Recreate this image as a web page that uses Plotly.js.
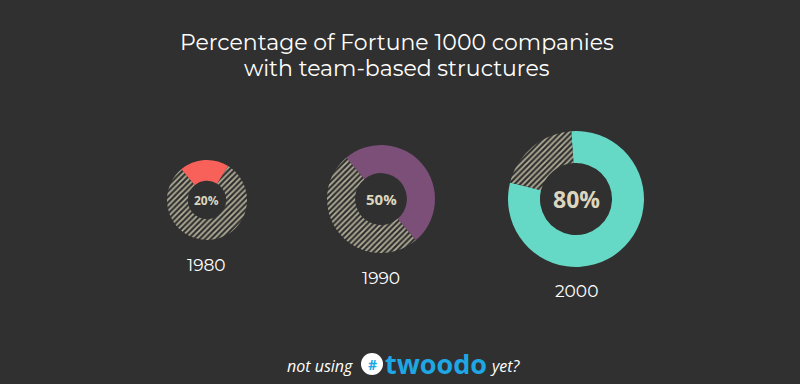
<!DOCTYPE html>
<html>
<head>
<meta charset="utf-8">
<script src="https://cdn.plot.ly/plotly-3.0.1.min.js"></script>
<style>html,body{margin:0;padding:0;background:#303030;}#chart{width:800px;height:384px;}</style>
</head>
<body>
<div id="chart"></div>
<script>
// Data
const years = ['1980', '1990', '2000'];
const teamShare = [20, 50, 80];
const otherShare = [80, 50, 20];
const centerLabels = ['20%', '50%', '80%'];
const sliceNames = ['Team-based', 'Not team-based'];

const W = 800, H = 384;
const bg = '#303030';
const colorsMain = ['#f8615a', '#7c4f78', '#66d8c6'];
const hatchFg = '#b4af99';
// layout (pixel centers/radii)
const cx = [207, 381, 576], cy = [200, 199, 199], rr = [40, 54, 68];
const holes = [0.48, 0.48, 0.53];
const rots = [-40, -40, -4];
const labelSizes = [12, 15, 23];
const yearY = [265, 278, 291];

const traces = years.map((y, i) => ({
  type: 'pie',
  name: y,
  labels: sliceNames,
  values: [teamShare[i], otherShare[i]],
  hole: holes[i],
  sort: false,
  direction: 'clockwise',
  rotation: rots[i],
  textinfo: 'none',
  hoverinfo: 'label+percent',
  showlegend: false,
  marker: {
    colors: [colorsMain[i], bg],
    line: {width: 0},
    pattern: {shape: ['', '/'], fgcolor: hatchFg, bgcolor: bg, size: 4, solidity: 0.45}
  },
  domain: {
    x: [(cx[i] - rr[i]) / W, (cx[i] + rr[i]) / W],
    y: [(H - cy[i] - rr[i]) / H, (H - cy[i] + rr[i]) / H]
  }
}));

const ann = [];
const font = 'Montserrat, "Open Sans", Lato, sans-serif';
function A(text, x, y, f) {
  ann.push({text: text, x: x / W, y: 1 - y / H, xref: 'paper', yref: 'paper', xanchor: 'center', yanchor: 'middle', showarrow: false, font: f});
}
A('Percentage of Fortune 1000 companies', 397, 43, {family: font, size: 22, color: '#ffffff'});
A('with team-based structures', 397, 68, {family: font, size: 22, color: '#ffffff'});
years.forEach((y, i) => {
  A('<b>' + centerLabels[i] + '</b>', cx[i], cy[i], {family: '"Open Sans", sans-serif', size: labelSizes[i], color: '#ddd6bf'});
  A(y, cx[i], yearY[i], {family: font, size: 17, color: '#ffffff'});
});
A('<i>not using</i>', 320, 366, {family: '"Open Sans", sans-serif', size: 16, color: '#ffffff'});
A('<b>#</b>', 372, 364, {family: '"Open Sans", sans-serif', size: 14, color: '#1ea7e4'});
A('<b>twoodo</b>', 436, 363, {family: '"Open Sans", sans-serif', size: 27, color: '#1ea7e4'});
A('<i>yet?</i>', 505, 366, {family: '"Open Sans", sans-serif', size: 16, color: '#ffffff'});

const layout = {
  width: W, height: H,
  margin: {l: 0, r: 0, t: 0, b: 0},
  paper_bgcolor: bg, plot_bgcolor: bg,
  showlegend: false,
  annotations: ann,
  shapes: [{type: 'circle', xref: 'paper', yref: 'paper', x0: 361/W, x1: 383/W, y0: 1 - 375/H, y1: 1 - 353/H, fillcolor: '#ffffff', line: {width: 0}, layer: 'below'}]
};
Plotly.newPlot('chart', traces, layout, {displayModeBar: false, staticPlot: true});
</script>
</body>
</html>
